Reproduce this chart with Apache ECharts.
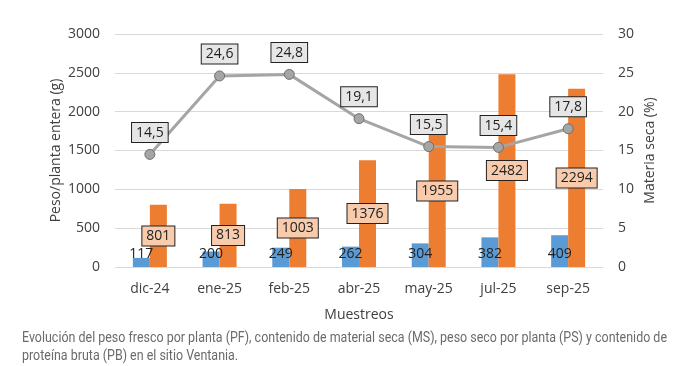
<!DOCTYPE html>
<html><head><meta charset="utf-8">
<script src="https://cdn.jsdelivr.net/npm/echarts@6/dist/echarts.min.js"></script>
<style>html,body{margin:0;padding:0;background:#fff;}#c{width:688px;height:366px;}</style>
</head><body><div id="c"></div>
<script>
const categories = ['dic-24','ene-25','feb-25','abr-25','may-25','jul-25','sep-25'];
const pesoSeco = [117,200,249,262,304,382,409];
const pesoFresco = [801,813,1003,1376,1955,2482,2294];
const materiaSeca = [14.5,24.6,24.8,19.1,15.5,15.4,17.8];
const caption1 = 'Evolución del peso fresco por planta (PF), contenido de material seca (MS), peso seco por planta (PS) y contenido de';
const caption2 = 'proteína bruta (PB) en el sitio Ventania.';

const fmtComma = v => String(v).replace('.', ',');
const F = '"Open Sans", "Liberation Sans", sans-serif';
const CF = 'Roboto, sans-serif';
const chart = echarts.init(document.getElementById('c'));
chart.setOption({
  animation:false,
  grid:{left:115,right:85,top:34,bottom:99},
  xAxis:{type:'category',data:categories,
    axisLine:{show:false},axisTick:{show:false},
    axisLabel:{color:'#404040',fontSize:14,fontFamily:F,margin:15},
    name:'Muestreos',nameLocation:'middle',nameGap:41,
    nameTextStyle:{color:'#404040',fontSize:14,fontFamily:F}},
  yAxis:[
    {type:'value',min:0,max:3000,interval:500,
     axisLine:{show:false},axisTick:{show:false},
     splitLine:{lineStyle:{color:'#d9d9d9',width:1}},
     axisLabel:{color:'#404040',fontSize:14,fontFamily:F,margin:15,formatter:v=>String(v)},
     name:'Peso/planta entera (g)',nameLocation:'middle',nameGap:52,nameMoveOverlap:false,
     nameTextStyle:{color:'#404040',fontSize:14,fontFamily:F}},
    {type:'value',min:0,max:30,interval:5,
     axisLine:{show:false},axisTick:{show:false},splitLine:{show:false},
     axisLabel:{color:'#404040',fontSize:14,fontFamily:F,margin:15,formatter:v=>String(v)},
     name:'Materia seca (%)',nameLocation:'middle',nameGap:40,nameMoveOverlap:false,
     nameTextStyle:{color:'#404040',fontSize:14,fontFamily:F}}
  ],
  series:[
    {type:'bar',data:pesoSeco,barWidth:17,barGap:'0%',itemStyle:{color:'#5b9bd5'},
     label:{show:true,position:'insideBottom',distance:6,color:'#222',fontSize:14,fontFamily:F}},
    {type:'bar',data:pesoFresco,barWidth:17,itemStyle:{color:'#ed7d31'},
     label:{show:true,position:'inside',color:'#222',fontSize:14,fontFamily:F,
       backgroundColor:'#f8cbad',borderColor:'#222',borderWidth:1,padding:[3,4,2,4]}},
    {type:'line',yAxisIndex:1,data:materiaSeca,symbol:'circle',symbolSize:10,
     lineStyle:{color:'#a5a5a5',width:3},
     itemStyle:{color:'#a5a5a5',borderColor:'#6e6e6e',borderWidth:1},
     label:{show:true,position:'top',distance:7,formatter:p=>fmtComma(p.value),
       color:'#222',fontSize:14,fontFamily:F,backgroundColor:'#e7e6e6',
       borderColor:'#222',borderWidth:1,padding:[3,4,2,4]},z:5}
  ],
  graphic:[
    {type:'text',x:22,y:331,scaleX:0.89,style:{text:caption1,fill:'#6b6b6b',fontSize:14,fontFamily:CF}},
    {type:'text',x:22,y:349,scaleX:0.89,style:{text:caption2,fill:'#6b6b6b',fontSize:14,fontFamily:CF}}
  ]
});
</script></body></html>
